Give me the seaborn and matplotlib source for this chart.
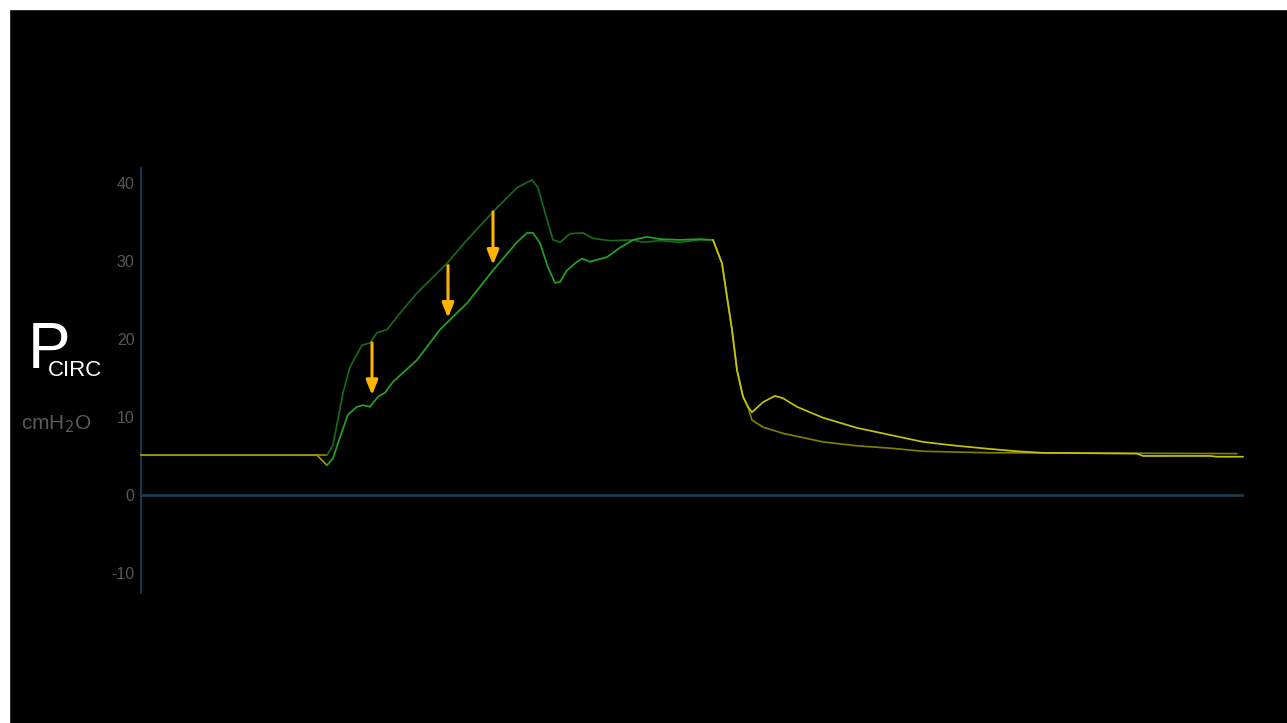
import matplotlib
matplotlib.use("Agg")
import matplotlib.pyplot as plt
from matplotlib.patches import Rectangle
import numpy as np
import pandas as pd
import seaborn as sns

# Circuit pressure (cmH2O) over time (s) for two superimposed breaths
t_a = [0.00, 1.87, 1.93, 2.03, 2.10, 2.22, 2.30, 2.37, 2.47, 2.60, 2.77, 3.07, 3.27, 3.53,
       3.77, 3.92, 3.98, 4.07, 4.13, 4.20, 4.30, 4.43, 4.53, 4.70, 4.93, 5.03, 5.20, 5.40,
       5.60, 5.73, 5.82, 5.87, 5.92, 5.97, 6.03, 6.08, 6.12, 6.23, 6.43, 6.83, 7.17, 7.50,
       7.83, 8.17, 8.50, 8.77, 10.97]
p_a = [5.1, 5.1, 6.4, 13.1, 16.4, 19.2, 19.5, 20.8, 21.2, 23.3, 25.9, 29.7, 32.7, 36.3,
       39.4, 40.4, 39.4, 35.3, 32.7, 32.4, 33.5, 33.6, 32.9, 32.6, 32.7, 32.4, 32.6, 32.4,
       32.7, 32.7, 29.7, 25.4, 21.2, 16.0, 12.6, 11.3, 9.6, 8.7, 7.9, 6.8, 6.3, 6.0,
       5.6, 5.5, 5.4, 5.4, 5.3]

t_b = [0.00, 1.77, 1.87, 1.93, 2.00, 2.08, 2.17, 2.23, 2.30, 2.38, 2.45, 2.53, 2.77, 3.00,
       3.27, 3.53, 3.77, 3.87, 3.93, 4.00, 4.08, 4.15, 4.20, 4.27, 4.37, 4.42, 4.50, 4.67,
       4.80, 4.93, 5.07, 5.20, 5.40, 5.60, 5.73, 5.82, 5.87, 5.92, 5.97, 6.03, 6.08, 6.12,
       6.23, 6.35, 6.43, 6.57, 6.83, 7.17, 7.50, 7.83, 8.17, 8.50, 8.77, 9.03, 9.97, 10.03,
       10.70, 10.77, 11.03]
p_b = [5.1, 5.1, 3.8, 4.7, 7.4, 10.3, 11.3, 11.5, 11.3, 12.6, 13.1, 14.5, 17.3, 21.2,
       24.6, 28.8, 32.4, 33.6, 33.6, 32.3, 29.2, 27.2, 27.3, 28.8, 29.9, 30.3, 29.9, 30.5,
       31.7, 32.7, 33.1, 32.8, 32.7, 32.8, 32.7, 29.7, 25.4, 21.2, 16.0, 12.6, 11.3, 10.6,
       11.9, 12.7, 12.4, 11.3, 9.9, 8.6, 7.7, 6.8, 6.3, 5.9, 5.6, 5.4, 5.3, 5.0,
       5.0, 4.9, 4.9]

# Phase boundaries: end of baseline, end of inspiration
phase_a = (1.87, 5.73)
phase_b = (1.87, 5.73)

# Arrows marking pressure drop: x, start, tip
arrow_t = [2.32, 3.08, 3.53]
arrow_top = [19.5, 29.4, 36.3]
arrow_tip = [12.8, 22.7, 29.5]

y_ticks = [-10, 0, 10, 20, 30, 40]


def phases(t, p, bounds, name):
    rows = []
    t = np.asarray(t)
    p = np.asarray(p)
    b0, b1 = bounds
    for ph, mask in (("base", t <= b0),
                     ("insp", (t >= b0) & (t <= b1)),
                     ("exp", t >= b1)):
        for ti, pi in zip(t[mask], p[mask]):
            rows.append({"t": ti, "p": pi, "breath": name, "phase": ph})
    return pd.DataFrame(rows)


df = pd.concat([phases(t_a, p_a, phase_a, "A"), phases(t_b, p_b, phase_b, "B")],
               ignore_index=True)

colors = {
    ("A", "base"): "#8c8c00", ("A", "insp"): "#176a17", ("A", "exp"): "#7d7d00",
    ("B", "base"): "#9a9a00", ("B", "insp"): "#22a322", ("B", "exp"): "#c4c400",
}

sns.set_theme(style="dark")
plt.rcParams["font.family"] = ["Liberation Sans", "DejaVu Sans"]

W, H = 1287, 723
fig = plt.figure(figsize=(W / 100, H / 100), dpi=100)
fig.patch.set_facecolor("black")
# thin white frame on the top and left edges
fig.add_artist(Rectangle((0, 0), 9 / W, 1, transform=fig.transFigure, color="white", zorder=0))
fig.add_artist(Rectangle((0, 1 - 9 / H), 1, 9 / H, transform=fig.transFigure, color="white", zorder=0))

ax = fig.add_axes([140 / W, 1 - 594 / H, (1244 - 140) / W, (594 - 167) / H])
ax.set_facecolor("black")

axis_col = "#173a4e"
ax.axhline(0, color=axis_col, lw=2, zorder=1)
ax.axvline(0, color=axis_col, lw=2, zorder=1)

for key in [("A", "base"), ("A", "insp"), ("A", "exp"),
            ("B", "base"), ("B", "insp"), ("B", "exp")]:
    sub = df[(df.breath == key[0]) & (df.phase == key[1])]
    sns.lineplot(data=sub, x="t", y="p", ax=ax, color=colors[key], lw=1.25,
                 sort=False, estimator=None, zorder=3)

for x, y0, y1 in zip(arrow_t, arrow_top, arrow_tip):
    ax.annotate("", xy=(x, y1), xytext=(x, y0),
                arrowprops=dict(arrowstyle="-|>,head_width=0.22,head_length=0.55",
                                color="#ffb400", lw=2.2, mutation_scale=16,
                                shrinkA=0, shrinkB=0),
                zorder=4)

ax.set_xlim(0, 11.04)
ax.set_ylim(-12.7, 42.05)
ax.set_yticks(y_ticks)
ax.set_yticklabels([str(v) for v in y_ticks])
ax.set_xticks([])
ax.tick_params(axis="y", length=0, pad=4, labelsize=11.5, labelcolor="#575757")
ax.set_xlabel("")
ax.set_ylabel("")
ax.grid(False)
for s in ax.spines.values():
    s.set_visible(False)

fig.text(28 / W, 1 - 368 / H, "P", color="white", fontsize=46, va="baseline", ha="left")
fig.text(48 / W, 1 - 376 / H, "CIRC", color="white", fontsize=16, va="baseline", ha="left")
fig.text(21 / W, 1 - 424 / H, "cmH$_2$O", color="#5a5a5a", fontsize=15, va="center", ha="left")

fig.savefig("out.png", dpi=100, facecolor=fig.get_facecolor())
